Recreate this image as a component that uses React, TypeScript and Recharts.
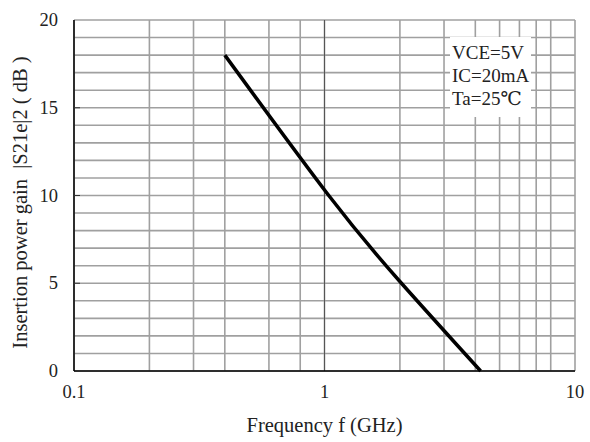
import React from "react";
import { LineChart, Line, XAxis, YAxis, CartesianGrid, ReferenceLine } from "recharts";

const freqGHz = [0.4, 1.04, 2.0, 4.2];
const gainDb = [18, 10, 5.1, 0];
const xTicks = [0.1, 0.2, 0.3, 0.4, 0.5, 0.6, 0.7, 0.8, 0.9, 1, 2, 3, 4, 5, 6, 7, 8, 9, 10];
const xLabels = [0.1, 1, 10];
const yTicks = [0, 1, 2, 3, 4, 5, 6, 7, 8, 9, 10, 11, 12, 13, 14, 15, 16, 17, 18, 19, 20];
const yLabels = [0, 5, 10, 15, 20];
const conditions = ["VCE=5V", "IC=20mA", "Ta=25℃"];

const data = freqGHz.map((f, i) => ({ f, g: gainDb[i] }));
const FONT = "'Liberation Serif', 'DejaVu Serif', serif";
const TXT = "#222";

const YTick = (props: any) => {
  const { x, y, payload } = props;
  const major = yLabels.includes(payload.value);
  return (
    <g>
      {major && payload.value !== 0 && payload.value !== 20 && (
        <line x1={x + 16} x2={x + 22} y1={y} y2={y} stroke="#333" strokeWidth={1} />
      )}
      {major && (
        <text x={x} y={y} textAnchor="end" dominantBaseline="central" fontFamily={FONT} fontSize={18.5} fill={TXT}>
          {payload.value}
        </text>
      )}
    </g>
  );
};

const XTick = (props: any) => {
  const { x, y, payload } = props;
  if (!xLabels.includes(payload.value)) return <g />;
  return (
    <text x={x} y={y} dy="0.75em" textAnchor="middle" fontFamily={FONT} fontSize={18.5} fill={TXT}>
      {payload.value}
    </text>
  );
};

const YLabel = (props: any) => {
  const vb = props.viewBox;
  const cx = vb.x + 20;
  const cy = vb.y + vb.height / 2 + 7;
  return (
    <text x={cx} y={cy} transform={`rotate(-90, ${cx}, ${cy})`} textAnchor="middle" dominantBaseline="central" fontFamily={FONT} fontSize={20.5} fill={TXT} xmlSpace="preserve">
      {"Insertion power gain  |S21e|2 ( dB )"}
    </text>
  );
};

const XLabel = (props: any) => {
  const vb = props.viewBox;
  const cx = vb.x + vb.width / 2;
  return (
    <text x={cx} y={vb.y + 54} textAnchor="middle" dominantBaseline="central" fontFamily={FONT} fontSize={20.5} fill={TXT}>
      Frequency f (GHz)
    </text>
  );
};

export default function App() {
  return (
    <div style={{ position: "absolute", left: 0, top: 0, width: 590, height: 442 }}>
      <LineChart width={590} height={442} data={data} margin={{ top: 20, right: 15, bottom: 0, left: 0 }}>
        <CartesianGrid stroke="#a0a0a0" strokeWidth={1.6} vertical horizontal />
        <XAxis
          dataKey="f"
          type="number"
          scale="log"
          domain={[0.1, 10]}
          ticks={xTicks}
          allowDataOverflow
          height={71}
          tickLine={false}
          tickSize={0}
          tickMargin={13}
          tick={<XTick />}
          axisLine={{ stroke: "#000", strokeWidth: 1.5 }}
          label={<XLabel />}
        />
        <YAxis
          type="number"
          domain={[0, 20]}
          ticks={yTicks}
          width={74}
          interval={0}
          tickLine={false}
          tickSize={0}
          tickMargin={16}
          tick={<YTick />}
          axisLine={{ stroke: "#000", strokeWidth: 1.5 }}
          label={<YLabel />}
        />
        <ReferenceLine x={1} stroke="#555" strokeWidth={1} />
        <Line dataKey="g" stroke="#000" strokeWidth={3.5} dot={false} isAnimationActive={false} type="natural" />
      </LineChart>
      <div
        style={{
          position: "absolute",
          left: 450,
          top: 37,
          width: 81,
          height: 80,
          background: "#fff",
          fontFamily: FONT,
          fontSize: 19,
          lineHeight: "23px",
          color: TXT,
          boxSizing: "border-box",
          paddingLeft: 2,
          paddingTop: 4,
          whiteSpace: "nowrap",
        }}
      >
        {conditions.map((c) => (
          <div key={c}>{c}</div>
        ))}
      </div>
    </div>
  );
}
